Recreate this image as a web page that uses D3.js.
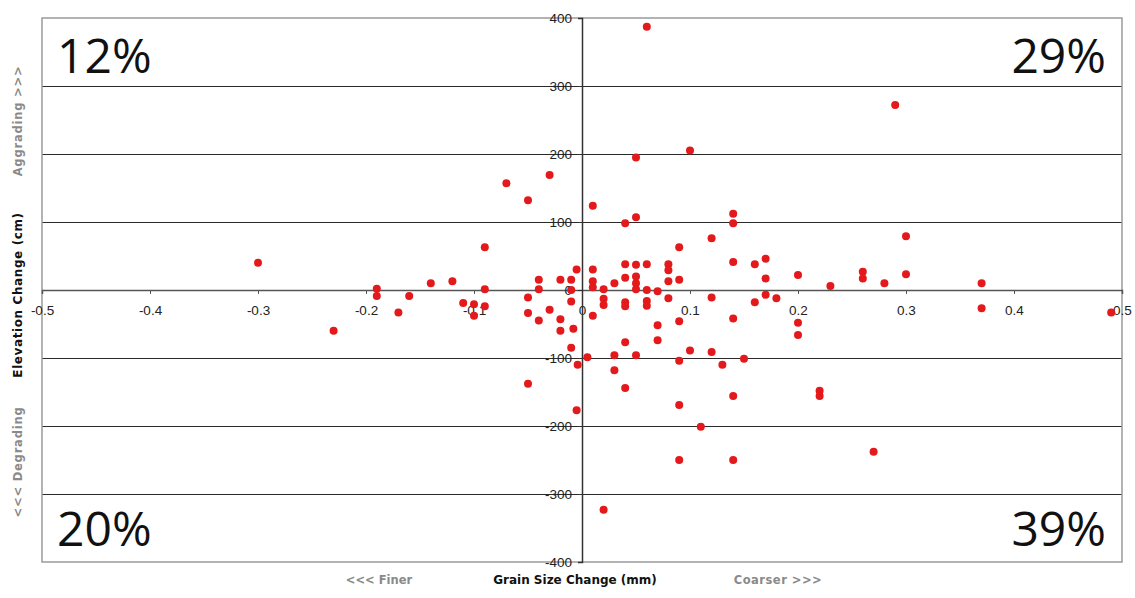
<!DOCTYPE html>
<html>
<head>
<meta charset="utf-8">
<script src="https://cdn.jsdelivr.net/npm/d3@7"></script>
<style>
  body { margin: 0; background: #fff; }
  #chart text { font-family: "Liberation Sans", Arial, sans-serif; }
</style>
</head>
<body>
<div id="chart"></div>
<script>
// Grain size change (mm) for each site
const grainChange = [
  -0.3, -0.23, -0.19, -0.19, -0.17, -0.16, -0.14, -0.12, -0.11, -0.1,
  -0.1, -0.09, -0.09, -0.09, -0.07, -0.05, -0.05, -0.05, -0.05, -0.04,
  -0.04, -0.04, -0.03, -0.03, -0.02, -0.02, -0.02, -0.01, -0.01, -0.01,
  -0.008, -0.01, -0.005, -0.004, -0.005, 0.01, 0.01, 0.01, 0.01, 0.01,
  0.005, 0.02, 0.02, 0.02, 0.02, 0.03, 0.03, 0.03, 0.04, 0.04,
  0.04, 0.04, 0.04, 0.04, 0.04, 0.05, 0.05, 0.05, 0.05, 0.05,
  0.05, 0.05, 0.06, 0.06, 0.06, 0.06, 0.06, 0.07, 0.07, 0.07,
  0.08, 0.08, 0.08, 0.08, 0.09, 0.09, 0.09, 0.09, 0.09, 0.09,
  0.1, 0.1, 0.11, 0.12, 0.12, 0.12, 0.13, 0.14, 0.14, 0.14,
  0.14, 0.14, 0.14, 0.15, 0.16, 0.16, 0.17, 0.17, 0.17, 0.18,
  0.2, 0.2, 0.2, 0.22, 0.22, 0.23, 0.26, 0.26, 0.27, 0.28,
  0.29, 0.3, 0.3, 0.37, 0.37, 0.49
];

// Elevation change (cm) for the same sites
const elevChange = [
  40, -60, 2, -9, -33, -9, 10, 13, -19, -21,
  -38, 63, 1, -24, 157, 132, -11, -34, -138, 15,
  1, -45, 169, -29, 15, -43, -60, 15, 0, -17,
  -57, -85, 30, -110, -177, 124, 30, 13, 4, -38,
  -99, 1, -13, -22, -323, 10, -96, -118, 98, 38,
  18, -18, -24, -77, -144, 195, 107, 37, 20, 10,
  1, -96, 387, 38, 0, -16, -23, -2, -52, -74,
  38, 29, 13, -12, 63, 15, -46, -104, -169, -250,
  205, -89, -201, 76, -11, -91, -110, 112, 98, 41,
  -42, -156, -250, -101, 38, -18, 46, 17, -7, -12,
  22, -48, -66, -148, -156, 6, 27, 17, -238, 10,
  272, 79, 23, 10, -27, -33
];

const xTicks = [-0.5, -0.4, -0.3, -0.2, -0.1, 0, 0.1, 0.2, 0.3, 0.4, 0.5];
const yTicks = [-400, -300, -200, -100, 0, 100, 200, 300, 400];

// Share of sites falling in each quadrant
const quadrantLabels = ["12%", "29%", "20%", "39%"];

const points = grainChange.map((g, i) => ({ g: g, e: elevChange[i] }));

const W = 1135, H = 598;
const margin = { top: 18, right: 13, bottom: 36, left: 42 },
    width = W - margin.left - margin.right,
    height = H - margin.top - margin.bottom;

const svg = d3.select("#chart")
    .append("svg")
    .attr("width", W)
    .attr("height", H);

const g = svg.append("g")
    .attr("transform", `translate(${margin.left},${margin.top})`);

const x = d3.scaleLinear().domain([-0.5, 0.5]).range([0, width]);
const y = d3.scaleLinear().domain([-400, 400]).range([height, 0]);

// plain hyphen minus, like the original spreadsheet labels
const fmt = d => String(d);

// horizontal gridlines
g.append("g")
    .attr("class", "grid")
    .call(d3.axisLeft(y).tickValues(yTicks.filter(v => v !== 0 && Math.abs(v) !== 400))
        .tickSize(-width).tickFormat(""))
    .call(s => s.select(".domain").remove())
    .call(s => s.selectAll("line").attr("stroke", "#2a2a2a").attr("stroke-width", 1.2));

// plot frame
g.append("rect")
    .attr("width", width)
    .attr("height", height)
    .attr("fill", "none")
    .attr("stroke", "#9a9a9a")
    .attr("stroke-width", 1.5);

// quadrant percentages
const qFont = '"Open Sans", "DejaVu Sans", sans-serif';
const quadPos = [
  { anchor: "start", px: 15, py: 55 },
  { anchor: "end", px: width - 16, py: 55 },
  { anchor: "start", px: 15, py: height - 16 },
  { anchor: "end", px: width - 16, py: height - 16 }
];
g.selectAll(".quad")
    .data(quadrantLabels)
    .enter()
    .append("text")
    .attr("class", "quad")
    .attr("x", (d, i) => quadPos[i].px)
    .attr("y", (d, i) => quadPos[i].py)
    .attr("text-anchor", (d, i) => quadPos[i].anchor)
    .style("font-family", qFont)
    .style("font-size", "48px")
    .attr("fill", "#111")
    .text(d => d);

// x axis through y = 0
const xAxis = g.append("g")
    .attr("transform", `translate(0,${y(0)})`)
    .call(d3.axisBottom(x).tickValues(xTicks).tickSize(4).tickPadding(11).tickFormat(fmt));
xAxis.select(".domain").attr("stroke", "#555").attr("stroke-width", 1.5);
xAxis.selectAll("line").attr("stroke", "#555");
xAxis.selectAll("text").style("font-size", "13.5px").attr("fill", "#222");

// y axis through x = 0
const yAxis = g.append("g")
    .attr("transform", `translate(${x(0)},0)`)
    .call(d3.axisLeft(y).tickValues(yTicks).tickSize(4).tickPadding(6).tickFormat(fmt));
yAxis.select(".domain").attr("stroke", "#333").attr("stroke-width", 1.5);
yAxis.selectAll("line").attr("stroke", "#333");
yAxis.selectAll("text").style("font-size", "13.5px").attr("fill", "#222");

// points
g.append("g")
    .selectAll("circle")
    .data(points)
    .enter()
    .append("circle")
    .attr("cx", d => x(d.g))
    .attr("cy", d => y(d.e))
    .attr("r", 4)
    .attr("fill", "#e3191c");

// axis titles
const titleFont = '"DejaVu Sans", Verdana, sans-serif';
svg.append("text")
    .attr("transform", "translate(22,295) rotate(-90)")
    .attr("text-anchor", "middle")
    .style("font-family", titleFont)
    .style("font-size", "12px")
    .style("font-weight", "bold")
    .style("letter-spacing", "0.6px")
    .attr("fill", "#111")
    .text("Elevation Change (cm)");

svg.append("text")
    .attr("transform", "translate(22,121) rotate(-90)")
    .attr("text-anchor", "middle")
    .style("font-family", titleFont)
    .style("font-size", "11.5px")
    .style("font-weight", "bold")
    .style("letter-spacing", "0.8px")
    .attr("fill", "#8a8a8a")
    .text("Aggrading >>>");

svg.append("text")
    .attr("transform", "translate(22,462) rotate(-90)")
    .attr("text-anchor", "middle")
    .style("font-family", titleFont)
    .style("font-size", "11.5px")
    .style("font-weight", "bold")
    .style("letter-spacing", "0.8px")
    .attr("fill", "#8a8a8a")
    .text("<<< Degrading");

svg.append("text")
    .attr("x", 575)
    .attr("y", 584)
    .attr("text-anchor", "middle")
    .style("font-family", titleFont)
    .style("font-size", "12px")
    .style("font-weight", "bold")
    .attr("fill", "#111")
    .text("Grain Size Change (mm)");

svg.append("text")
    .attr("x", 379)
    .attr("y", 584)
    .attr("text-anchor", "middle")
    .style("font-family", titleFont)
    .style("font-size", "11.5px")
    .style("font-weight", "bold")
    .attr("fill", "#8a8a8a")
    .text("<<< Finer");

svg.append("text")
    .attr("x", 778)
    .attr("y", 584)
    .attr("text-anchor", "middle")
    .style("font-family", titleFont)
    .style("font-size", "11.5px")
    .style("font-weight", "bold")
    .style("letter-spacing", "0.5px")
    .attr("fill", "#8a8a8a")
    .text("Coarser >>>");
</script>
</body>
</html>
